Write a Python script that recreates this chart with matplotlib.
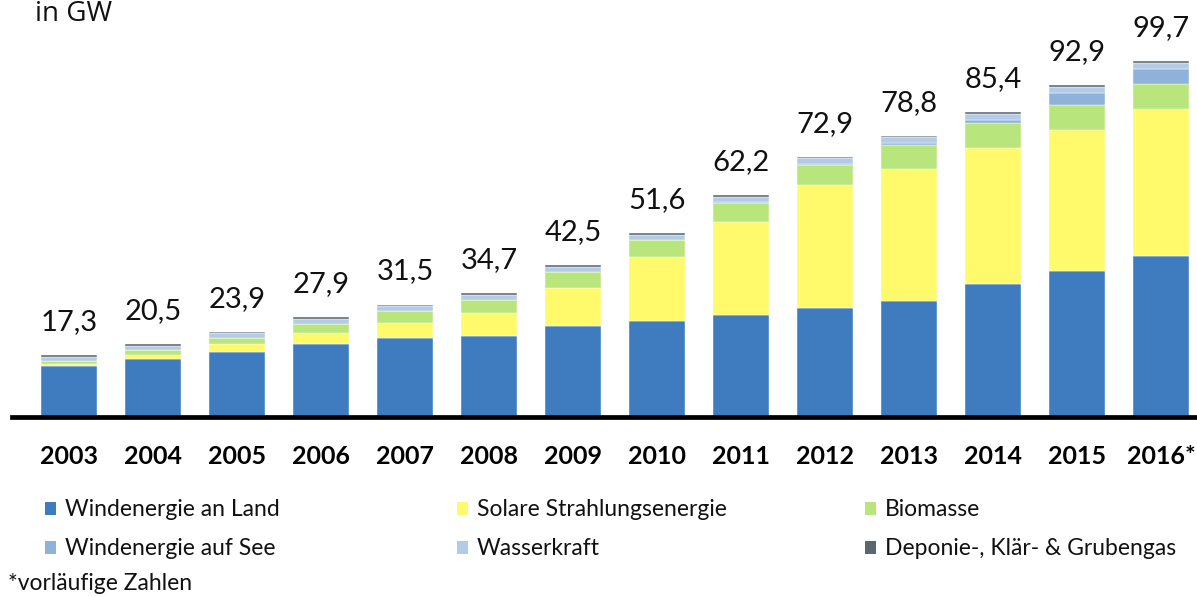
import matplotlib
matplotlib.use("Agg")
import matplotlib.pyplot as plt
from matplotlib.patches import Rectangle
import numpy as np

years = ["2003", "2004", "2005", "2006", "2007", "2008", "2009", "2010",
         "2011", "2012", "2013", "2014", "2015", "2016*"]
totals = [17.3, 20.5, 23.9, 27.9, 31.5, 34.7, 42.5, 51.6, 62.2, 72.9, 78.8, 85.4, 92.9, 99.7]

wind_land = [14.4, 16.3, 18.3, 20.5, 22.0, 22.8, 25.6, 26.8, 28.5, 30.6, 32.6, 37.3, 41.0, 45.2]
solar = [0.4, 1.2, 2.1, 3.0, 4.3, 6.2, 10.5, 18.0, 26.0, 34.3, 37.0, 38.1, 39.4, 41.0]
biomasse = [0.9, 1.2, 1.7, 2.6, 3.3, 3.8, 4.4, 4.7, 5.5, 5.8, 6.7, 6.9, 7.1, 7.2]
wind_see = [0.0, 0.0, 0.0, 0.0, 0.0, 0.0, 0.05, 0.1, 0.2, 0.3, 0.5, 1.0, 3.3, 4.1]
wasser = [1.1, 1.3, 1.3, 1.3, 1.4, 1.4, 1.45, 1.5, 1.5, 1.5, 1.6, 1.6, 1.6, 1.7]
gas = [0.5, 0.5, 0.5, 0.5, 0.5, 0.5, 0.5, 0.5, 0.5, 0.4, 0.4, 0.5, 0.5, 0.5]

series_labels = ["Windenergie an Land", "Solare Strahlungsenergie", "Biomasse",
                 "Windenergie auf See", "Wasserkraft", "Deponie-, Klär- & Grubengas"]
series_values = [wind_land, solar, biomasse, wind_see, wasser, gas]
series_colors = ["#3F7CBF", "#FFFA6C", "#B9E67C", "#8EB2DA", "#B3CBE6", "#5A6670"]

total_labels = [f"{v:.1f}".replace(".", ",") for v in totals]

FONT = ["Lato", "DejaVu Sans"]

W, H = 1197, 597
fig = plt.figure(figsize=(W / 100, H / 100), dpi=100)
ax_left_px, base_px = 12, 417
ax = fig.add_axes([ax_left_px / W, 1 - base_px / H, (W - ax_left_px) / W, base_px / H])

x = np.arange(len(years))
bottom = np.zeros(len(years))
for vals, col, lab in zip(series_values, series_colors, series_labels):
    ax.bar(x, vals, width=0.667, bottom=bottom, color=col, label=lab,
           edgecolor="white", linewidth=0.3, zorder=2)
    bottom += np.array(vals)

for xi, tot, lab in zip(x, totals, total_labels):
    ax.annotate(lab, (xi, tot), xytext=(0, 18), textcoords="offset points",
                ha="center", va="baseline", fontsize=21, family=FONT, color="#111111")

ax.set_xlim(-0.68, 13.43)
ax.set_ylim(0, base_px / 3.57)
for s in ["top", "left", "right"]:
    ax.spines[s].set_visible(False)
ax.spines["bottom"].set_linewidth(3.4)
ax.spines["bottom"].set_color("black")
ax.spines["bottom"].set_zorder(3)
ax.set_yticks([])
ax.set_xticks(x)
ax.set_xticklabels(years, fontsize=18, fontweight="bold", family=FONT)
ax.tick_params(axis="x", length=0, pad=20)

# "in GW" unit label
fig.text(35 / W, 1 - 21 / H, "in GW", fontsize=20, family=["Open Sans", "DejaVu Sans"],
         ha="left", va="baseline", color="#111111")

# legend (manual grid 3 columns x 2 rows)
col_sq = [45, 457, 865]
row_base = [516, 555]
sq_w, sq_h = 11, 13
for i, (lab, col) in enumerate(zip(series_labels, series_colors)):
    c, r = i % 3, i // 3
    sx = col_sq[c]
    sy_top = row_base[r] - 14
    fig.patches.append(Rectangle((sx / W, 1 - (sy_top + sq_h) / H), sq_w / W, sq_h / H,
                                 transform=fig.transFigure, facecolor=col, edgecolor="none"))
    fig.text((sx + 20) / W, 1 - row_base[r] / H, lab, fontsize=16.5, family=FONT,
             ha="left", va="baseline", color="#111111")

fig.text(8 / W, 1 - 590 / H, "*vorläufige Zahlen", fontsize=16.5, family=FONT,
         ha="left", va="baseline", color="#111111")

fig.savefig("out.png", dpi=100)
